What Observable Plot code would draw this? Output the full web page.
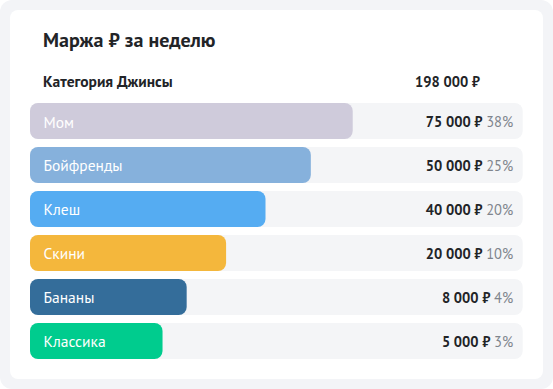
<!DOCTYPE html>
<html>
<head>
<meta charset="utf-8">
<script src="https://cdn.jsdelivr.net/npm/d3@7"></script>
<script src="https://cdn.jsdelivr.net/npm/@observablehq/plot@0.6"></script>
<style>
  html, body { margin: 0; padding: 0; background: #ffffff; }
  body { font-family: "PT Sans", Roboto, sans-serif; }
  #frame { position: relative; width: 553px; height: 389px; background: #f3f4f7; border-radius: 12px; overflow: hidden; }
  #card { position: absolute; left: 10px; top: 10px; width: 533px; height: 369px; background: #ffffff; border-radius: 8px; }
  #title { position: absolute; left: 43px; top: 27px; font-size: 20px; font-weight: 700; color: #222427; white-space: nowrap; }
  #head { position: absolute; left: 43px; top: 74px; width: 437px; font-size: 15.5px; line-height: 15px; font-weight: 700; color: #222427; white-space: nowrap; }
  #head .total { position: absolute; right: 0; top: 0; font-size: 14.5px; }
  #chart { position: absolute; left: 0; top: 0; }
</style>
</head>
<body>
<div id="frame">
  <div id="card"></div>
  <div id="title"></div>
  <div id="head"><span class="cat"></span><span class="total"></span></div>
  <div id="chart"></div>
</div>
<script>
// ---- data ----
const titleText = "Маржа ₽ за неделю";
const categoryName = "Категория Джинсы";
const models = ["Мом", "Бойфренды", "Клеш", "Скини", "Бананы", "Классика"];
const margins = [75000, 50000, 40000, 20000, 8000, 5000];
const barFill = [0.655, 0.570, 0.478, 0.398, 0.318, 0.269]; // bar length as share of track
const colors = ["#cfcbdb", "#86b1dc", "#55acf2", "#f4b73c", "#346d9a", "#00cc8e"];

const total = d3.sum(margins);
const loc = d3.formatLocale({decimal: ",", thousands: "\u00a0", grouping: [3], currency: ["", "\u00a0₽"]});
const fmt = loc.format("$,.0f");
const rows = models.map((m, i) => ({
  model: m, value: margins[i], fill: barFill[i], color: colors[i],
  pct: Math.round(margins[i] / total * 100)
}));

document.getElementById("title").textContent = titleText;
document.querySelector("#head .cat").textContent = categoryName;
document.querySelector("#head .total").textContent = fmt(total);

const FONT = "'PT Sans', Roboto, sans-serif";
const chart = Plot.plot({
  width: 553,
  height: 389,
  marginLeft: 30,
  marginRight: 30.3,
  marginTop: 103,
  marginBottom: 30,
  style: {background: "transparent", fontFamily: FONT, overflow: "visible"},
  x: {domain: [0, 1], axis: null},
  y: {domain: models, axis: null, paddingInner: 0.18, paddingOuter: 0, round: false},
  color: {domain: models, range: colors},
  marks: [
    Plot.barX(rows, {x1: 0, x2: 1, y: "model", fill: "#f4f5f7", rx: 8}),
    Plot.barX(rows, {x1: 0, x2: "fill", y: "model", fill: "model", rx: 8}),
    Plot.text(rows, {x: 0, y: "model", text: "model", dx: 13, dy: 1, textAnchor: "start", fill: "#ffffff", fontSize: 15.5, className: "lbl"}),
    Plot.text(rows, {x: 1, y: "model", text: d => fmt(d.value) + "|" + d.pct + "%", dx: -10, dy: 1, textAnchor: "end", fill: "#222427", fontSize: 14.5, className: "val"})
  ]
});
document.getElementById("chart").appendChild(chart);

// split value text into bold amount + grey percent
d3.select(chart).selectAll("g.val text").each(function() {
  const t = d3.select(this);
  const [a, b] = t.text().split("|");
  t.text(null);
  t.append("tspan").attr("font-weight", 700).attr("fill", "#222427").text(a + " ");
  t.append("tspan").attr("font-weight", 400).attr("fill", "#80858d").text(b);
});
</script>
</body>
</html>
